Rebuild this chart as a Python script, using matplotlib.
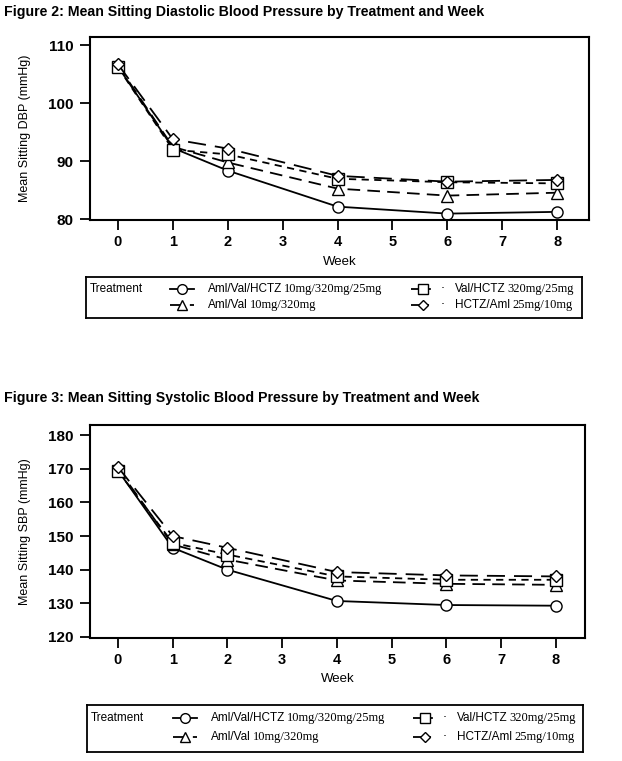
import numpy as np
import matplotlib
matplotlib.use("Agg")
import matplotlib.pyplot as plt

W, H = 622, 761

weeks = [0, 1, 2, 4, 6, 8]
treatments = ["Aml/Val/HCTZ", "Aml/Val", "Val/HCTZ", "HCTZ/Aml"]
doses = ["10mg/320mg/25mg", "10mg/320mg", "320mg/25mg", "25mg/10mg"]

# mean sitting DBP (mmHg)
dbp_aml_val_hctz = [106.3, 92.3, 88.4, 82.2, 81.0, 81.3]
dbp_aml_val = [106.5, 92.5, 89.8, 85.3, 84.1, 84.6]
dbp_val_hctz = [106.2, 92.0, 91.2, 87.0, 86.4, 86.2]
dbp_hctz_aml = [106.7, 93.8, 92.2, 87.5, 86.5, 86.8]

# mean sitting SBP (mmHg)
sbp_aml_val_hctz = [169.5, 146.5, 140.0, 130.7, 129.5, 129.3]
sbp_aml_val = [170.0, 147.5, 143.0, 136.8, 135.8, 135.5]
sbp_val_hctz = [169.3, 148.0, 144.5, 138.0, 137.0, 137.0]
sbp_hctz_aml = [170.5, 150.0, 146.5, 139.3, 138.3, 138.0]

sans = ["Liberation Sans", "DejaVu Sans"]
serif = ["Liberation Serif", "DejaVu Serif"]

styles = [
    dict(marker="o", linestyle="-"),
    dict(marker="^", dashes=(7, 4)),
    dict(marker="s", dashes=(4, 3)),
    dict(marker="D", dashes=(10, 5)),
]


def box(l, t, r, b):
    # pixel box (top-left origin) -> figure fraction
    return [l / W, 1 - b / H, (r - l) / W, (b - t) / H]


fig = plt.figure(figsize=(W / 100, H / 100), dpi=100)


def panel(rect, series, ylim, xlim, yticks, ylabel, xpad):
    ax = fig.add_axes(rect)
    for vals, st in zip(series, styles):
        ms = 6 if st["marker"] == "D" else 8
        ax.plot(weeks, vals, color="black", lw=1.3, markersize=ms,
                markerfacecolor="white", markeredgewidth=1.0, **st)
    ax.set_xlim(*xlim)
    ax.set_ylim(*ylim)
    ax.set_xticks(range(9))
    ax.set_yticks(yticks)
    for s in ax.spines.values():
        s.set_linewidth(1.5)
    ax.tick_params(direction="out", length=7, width=1.3, labelsize=10.5, pad=4)
    ax.tick_params(axis="y", labelsize=11, pad=5)
    for lab in ax.get_xticklabels() + ax.get_yticklabels():
        lab.set_fontweight("bold")
        lab.set_family(sans)
    ax.set_xlabel("Week", family=sans, fontsize=9.5, labelpad=xpad)
    ax.set_ylabel(ylabel, family=sans, fontsize=9, labelpad=12)
    return ax


fig.text(4 / W, 1 - 12 / H, "Figure 2: Mean Sitting Diastolic Blood Pressure by Treatment and Week",
         family=sans, weight="bold", fontsize=10.2, va="center")
panel(box(90, 37, 589, 220),
      [dbp_aml_val_hctz, dbp_aml_val, dbp_val_hctz, dbp_hctz_aml],
      (79.9, 111.4), (-0.51, 8.58), [80, 90, 100, 110], "Mean Sitting DBP (mmHg)", 5)

fig.text(4 / W, 1 - 398 / H, "Figure 3: Mean Sitting Systolic Blood Pressure by Treatment and Week",
         family=sans, weight="bold", fontsize=10.2, va="center")
panel(box(90, 425, 585, 638),
      [sbp_aml_val_hctz, sbp_aml_val, sbp_val_hctz, sbp_hctz_aml],
      (119.7, 183.0), (-0.51, 8.53), [120, 130, 140, 150, 160, 170, 180], "Mean Sitting SBP (mmHg)", 4)


def legend_box(l, t, r, b, rows, cols):
    ax = fig.add_axes(box(l, t, r, b))
    ax.set_xlim(l, r)
    ax.set_ylim(b, t)
    ax.set_xticks([])
    ax.set_yticks([])
    for s in ax.spines.values():
        s.set_linewidth(1.3)
    ax.text(l + 4, rows[0], "Treatment", family=sans, fontsize=8.5, va="center")
    labels = []
    for i, (name, dose, st) in enumerate(zip(treatments, doses, styles)):
        cx = cols[0] if i in (0, 1) else cols[1]
        y = rows[0] if i in (0, 2) else rows[1]
        ms = 5 if st["marker"] == "D" else 7
        ax.plot([cx - 12, cx + 12], [y, y], color="black", lw=1.3,
                **{k: v for k, v in st.items() if k != "marker"})
        ax.plot([cx], [y], color="black", marker=st["marker"], markersize=ms,
                markerfacecolor="white", markeredgewidth=1.0, linestyle="none")
        if i >= 2:
            ax.text(cx + 20, y, "\u00b7", fontsize=9, va="center", ha="center")
        t1 = ax.text(cx + 32 if i >= 2 else cx + 26, y, name, family=sans,
                     fontsize=8.5, va="center")
        labels.append((t1, dose, y))
    return ax, labels


legends = [
    legend_box(86, 277, 582, 318, (289, 305), [182, 423]),
    legend_box(87, 705, 583, 752, (718, 737), [185, 425]),
]

fig.canvas.draw()
r = fig.canvas.get_renderer()
for ax, labels in legends:
    inv = ax.transData.inverted()
    for t1, dose, y in labels:
        bb = t1.get_window_extent(r)
        x_end = inv.transform((bb.x1, bb.y0))[0]
        ax.text(x_end + 2, y, dose, family=serif, fontsize=9, va="center")

fig.savefig("out.png", dpi=100)
